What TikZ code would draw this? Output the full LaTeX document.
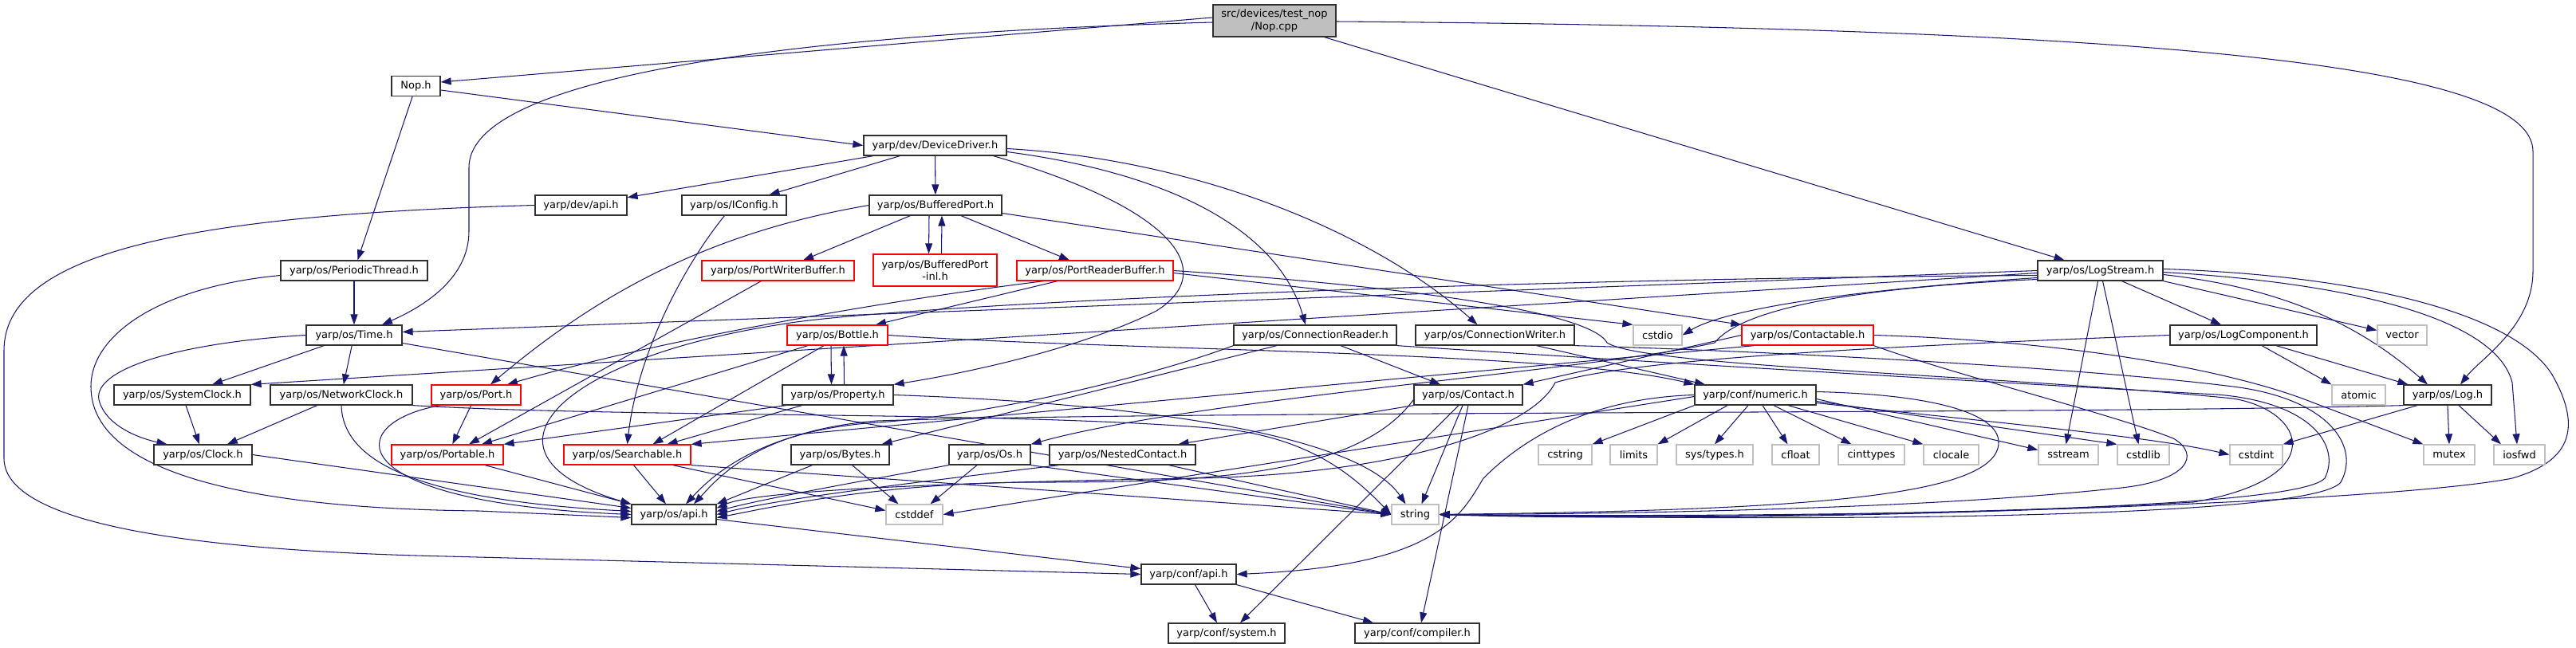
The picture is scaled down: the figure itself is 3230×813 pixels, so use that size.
\documentclass[tikz,border=0pt]{standalone}
\usepackage{fontspec}
\setmainfont{DejaVu Sans}
\usetikzlibrary{arrows.meta}
\pgfdeclarelayer{bg}
\pgfsetlayers{bg,main}
\definecolor{eb}{HTML}{191970}
\definecolor{gbd}{HTML}{C0C0C0}
\definecolor{rootf}{HTML}{BFBFBF}
\definecolor{nbd}{HTML}{303030}
\definecolor{rbd}{HTML}{FF0000}
\tikzset{
  nbase/.style={rectangle, inner sep=0pt, minimum height=25pt, line width=1.25pt, fill=white, font=\fontsize{13pt}{15.5pt}\selectfont},
  bbox/.style={nbase, draw=nbd},
  rbox/.style={nbase, draw=rbd},
  gbox/.style={nbase, draw=gbd},
  rootbox/.style={nbase, draw=nbd, fill=rootf},
  edg/.style={draw=eb, line width=1.05pt, -{Triangle[length=13pt,width=9pt]}}
}
\begin{document}
\begin{tikzpicture}[x=1pt,y=-1pt]
\useasboundingbox (0,0) rectangle (3230,813);
% ---------- nodes ----------
\node[rootbox, minimum width=154pt, minimum height=40pt, align=center] (cpp) at (1598,26) {src/devices/test\_nop\\/Nop.cpp};
\node[bbox, minimum width=61pt] (noph) at (521.5,108) {Nop.h};
\node[bbox, minimum width=179pt] (devdrv) at (1172.5,182.5) {yarp/dev/DeviceDriver.h};
\node[bbox, minimum width=115pt] (devapi) at (728.5,257.5) {yarp/dev/api.h};
\node[bbox, minimum width=131pt] (iconfig) at (920.5,257.5) {yarp/os/IConfig.h};
\node[bbox, minimum width=166pt] (bport) at (1173,257.5) {yarp/os/BufferedPort.h};
\node[bbox, minimum width=184pt] (periodic) at (444,339.5) {yarp/os/PeriodicThread.h};
\node[rbox, minimum width=191pt] (pwbuf) at (975.5,339.5) {yarp/os/PortWriterBuffer.h};
\node[rbox, minimum width=155pt, minimum height=40pt, align=center] (bportinl) at (1172.5,339) {yarp/os/BufferedPort\\-inl.h};
\node[rbox, minimum width=196pt] (prbuf) at (1373,339.5) {yarp/os/PortReaderBuffer.h};
\node[bbox, minimum width=157pt] (logstream) at (2633.5,339.5) {yarp/os/LogStream.h};
% row 5
\node[bbox, minimum width=120pt] (time) at (444,420.5) {yarp/os/Time.h};
\node[rbox, minimum width=126pt] (bottle) at (1050,420.5) {yarp/os/Bottle.h};
\node[bbox, minimum width=204pt] (creader) at (1649,420.5) {yarp/os/ConnectionReader.h};
\node[bbox, minimum width=199pt] (cwriter) at (1874.5,420.5) {yarp/os/ConnectionWriter.h};
\node[gbox, minimum width=61pt] (cstdio) at (2078.5,420.5) {cstdio};
\node[rbox, minimum width=165pt] (contactable) at (2266.5,420.5) {yarp/os/Contactable.h};
\node[bbox, minimum width=184pt] (logcomp) at (2813,420.5) {yarp/os/LogComponent.h};
\node[gbox, minimum width=62pt] (vector) at (3012,420.5) {vector};
% row 6
\node[bbox, minimum width=171pt] (sysclock) at (228.5,495.5) {yarp/os/SystemClock.h};
\node[bbox, minimum width=178pt] (netclock) at (428,495.5) {yarp/os/NetworkClock.h};
\node[rbox, minimum width=112pt] (port) at (597,495.5) {yarp/os/Port.h};
\node[bbox, minimum width=139pt] (property) at (1050.5,495.5) {yarp/os/Property.h};
\node[bbox, minimum width=136pt] (contact) at (1841,495.5) {yarp/os/Contact.h};
\node[bbox, minimum width=152pt] (numeric) at (2201,495.5) {yarp/conf/numeric.h};
\node[gbox, minimum width=67pt] (atomic) at (2957.5,495.5) {atomic};
\node[bbox, minimum width=110pt] (logh) at (3069,495.5) {yarp/os/Log.h};
% row 7
\node[bbox, minimum width=123pt] (clock) at (254.5,570.5) {yarp/os/Clock.h};
\node[rbox, minimum width=140pt] (portable) at (561,570.5) {yarp/os/Portable.h};
\node[rbox, minimum width=159pt] (searchable) at (786.5,570.5) {yarp/os/Searchable.h};
\node[bbox, minimum width=123pt] (bytes) at (1053.5,570.5) {yarp/os/Bytes.h};
\node[bbox, minimum width=102pt] (os) at (1241,570.5) {yarp/os/Os.h};
\node[bbox, minimum width=183pt] (nested) at (1407.5,570.5) {yarp/os/NestedContact.h};
\node[gbox, minimum width=67pt] (cstring) at (1962.5,570.5) {cstring};
\node[gbox, minimum width=59pt] (limits) at (2048.5,570.5) {limits};
\node[gbox, minimum width=96pt] (systypes) at (2150,570.5) {sys/types.h};
\node[gbox, minimum width=59pt] (cfloat) at (2251.5,570.5) {cfloat};
\node[gbox, minimum width=83pt] (cinttypes) at (2346.5,570.5) {cinttypes};
\node[gbox, minimum width=69pt] (clocale) at (2446.5,570.5) {clocale};
\node[gbox, minimum width=75pt] (sstream) at (2593.5,570.5) {sstream};
\node[gbox, minimum width=65pt] (cstdlib) at (2687.5,570.5) {cstdlib};
\node[gbox, minimum width=66pt] (cstdint) at (2829,570.5) {cstdint};
\node[gbox, minimum width=64pt] (mutex) at (3071,570.5) {mutex};
\node[gbox, minimum width=64pt] (iosfwd) at (3159,570.5) {iosfwd};
% row 8-10
\node[bbox, minimum width=106pt] (osapi) at (845,645.5) {yarp/os/api.h};
\node[gbox, minimum width=71pt] (cstddef) at (1146.5,645.5) {cstddef};
\node[gbox, minimum width=59pt] (string) at (1774.5,645.5) {string};
\node[bbox, minimum width=119pt] (confapi) at (1490.5,720.5) {yarp/conf/api.h};
\node[bbox, minimum width=146pt] (system) at (1538,794.5) {yarp/conf/system.h};
\node[bbox, minimum width=156pt] (compiler) at (1777,794.5) {yarp/conf/compiler.h};
% ---------- edges ----------
\begin{pgfonlayer}{bg}
\fill[white] (0,0) rectangle (3230,813);
% Nop.cpp
\draw[edg] ([yshift=4pt]cpp.west) -- ([yshift=5pt]noph.east);
\draw[edg] ([yshift=-2pt]cpp.west) .. controls (900,45) and (588,110) .. (588,210) -- (588,290) .. controls (588,350) and (530,385) .. ([xshift=35pt]time.north);
\draw[edg] ([xshift=-15pt]cpp.south east) -- ([xshift=-45pt]logstream.north);
\draw[edg] ([yshift=-1pt]cpp.east) .. controls (2700,35) and (3176,80) .. (3176,190) -- (3176,340) .. controls (3176,410) and (3110,450) .. ([xshift=16pt]logh.north);
% Nop.h
\draw[edg] ([yshift=-5pt]noph.east) -- (devdrv.west);
\draw[edg] (noph) -- (periodic);
% PeriodicThread
\draw[edg] (periodic) -- (time);
\draw[edg] ([yshift=-6pt]periodic.west) .. controls (200,360) and (114,420) .. (114,485) .. controls (114,590) and (300,638) .. (600,641) -- ([yshift=-4pt]osapi.west);
% DeviceDriver
\draw[edg] (devdrv) -- (devapi);
\draw[edg] (devdrv) -- (iconfig);
\draw[edg] (devdrv) -- (bport);
\draw[edg] ([xshift=73pt]devdrv.south) .. controls (1470,260) and (1530,340) .. (1450,390) .. controls (1350,440) and (1200,470) .. (property.north east);
\draw[edg] ([yshift=-8pt]devdrv.east) .. controls (1450,215) and (1600,280) .. ([xshift=-12pt]creader.north);
\draw[edg] ([yshift=-4pt]devdrv.east) .. controls (1500,200) and (1720,290) .. ([xshift=-22pt]cwriter.north);
% dev/api
\draw[edg] (devapi.west) .. controls (220,270) and (5,320) .. (5,440) -- (5,575) .. controls (5,650) and (200,690) .. (560,698) -- (confapi.west);
% IConfig
\draw[edg] ([xshift=-12pt]iconfig.south) .. controls (860,330) and (800,440) .. (searchable.north);
% BufferedPort
\draw[edg] ([xshift=-8pt]bport.south) -- ([xshift=-8pt]bportinl.north);
\draw[edg] ([xshift=8pt]bportinl.north) -- ([xshift=8pt]bport.south);
\draw[edg] (bport.west) .. controls (900,290) and (760,360) .. ([xshift=18pt]port.north);
\draw[edg] (bport) -- (pwbuf);
\draw[edg] (bport) -- (prbuf);
\draw[edg] ([yshift=-10pt]bport.east) -- (contactable.north west);
% PortWriterBuffer
\draw[edg] ([xshift=-21pt]pwbuf.south) -- ([xshift=27pt]portable.north);
% PortReaderBuffer
\draw[edg] ([xshift=-47pt]prbuf.south) -- ([xshift=48pt]bottle.north);
\draw[edg] ([xshift=-64pt]prbuf.south) .. controls (1150,372) and (850,420) .. ([xshift=39pt]port.north);
\draw[edg] ([yshift=-3pt]prbuf.east) -- (cstdio.north west);
\draw[edg] (prbuf.east) .. controls (1700,355) and (1990,385) .. (2015,430) .. controls (2060,460) and (2500,470) .. (2800,500) .. controls (2890,515) and (2925,600) .. (2750,630) .. controls (2400,650) and (2000,652) .. (string.east);
% Time
\draw[edg] (time) -- (sysclock);
\draw[edg] (time) -- (netclock);
\draw[edg] (time.west) .. controls (220,430) and (110,465) .. (125,505) .. controls (135,535) and (175,550) .. ([xshift=-45pt]clock.north);
\draw[edg] ([yshift=-10pt]time.east) -- (string.west);
% clocks
\draw[edg] (sysclock) -- (clock);
\draw[edg] (netclock) -- (clock);
\draw[edg] (netclock.south) .. controls (430,585) and (540,628) .. ([yshift=4pt]osapi.west);
\draw[edg] (netclock.south east) .. controls (800,525) and (1300,515) .. (1550,540) .. controls (1650,555) and (1700,600) .. (string.west);
\draw[edg] (clock.east) -- ([yshift=8pt]osapi.west);
% Port
\draw[edg] (port) -- (portable);
\draw[edg] ([xshift=-45pt]port.south) .. controls (430,530) and (420,630) .. (osapi.west);
% Portable
\draw[edg] ([xshift=47pt]portable.south) -- (osapi.north west);
% Bottle / Property
\draw[edg] ([xshift=-8pt]bottle.south) -- ([xshift=-8pt]property.north);
\draw[edg] ([xshift=8pt]property.north) -- ([xshift=8pt]bottle.south);
\draw[edg] ([xshift=-37pt]bottle.south) -- ([xshift=43pt]portable.north);
\draw[edg] ([xshift=-17pt]bottle.south) -- ([xshift=32pt]searchable.north);
\draw[edg] (bottle.east) .. controls (1400,440) and (1950,440) .. (numeric.north west);
\draw[edg] ([xshift=-45pt]property.south) -- ([xshift=50pt]searchable.north);
\draw[edg] ([xshift=-65pt]property.south) -- (portable.north east);
\draw[edg] (property.east) .. controls (1400,505) and (1700,540) .. ([xshift=-12pt]string.north);
% Searchable
\draw[edg] ([xshift=8pt]searchable.south) -- ([xshift=-10pt]osapi.north);
\draw[edg] ([xshift=57pt]searchable.south) -- ([yshift=5pt]cstddef.west);
\draw[edg] (searchable.south east) -- (string.west);
% Bytes / Os / NestedContact
\draw[edg] ([xshift=-35pt]bytes.south) -- (osapi.north east);
\draw[edg] ([xshift=15pt]bytes.south) -- ([xshift=-20pt]cstddef.north);
\draw[edg] ([xshift=-16pt]os.south) -- ([xshift=20pt]cstddef.north);
\draw[edg] (os.south west) .. controls (1100,600) and (960,625) .. ([yshift=4pt]osapi.east);
\draw[edg] (os.south east) -- (string.west);
\draw[edg] ([xshift=-80pt]nested.south) .. controls (1150,605) and (980,625) .. (osapi.east);
\draw[edg] ([xshift=58pt]nested.south) -- (string.west);
% Contact
\draw[edg] (contact.south west) -- ([xshift=70pt]nested.north);
\draw[edg] ([yshift=-6pt]contact.west) .. controls (1700,600) and (1500,605) .. (1300,605) .. controls (1100,605) and (950,640) .. ([yshift=-4pt]osapi.east);
\draw[edg] ([xshift=-7pt]contact.south) -- ([xshift=8pt]string.north);
\draw[edg] ([xshift=-12pt]contact.south) -- ([xshift=17pt]system.north);
\draw[edg] (contact.south) -- ([xshift=5pt]compiler.north);
% ConnectionReader
\draw[edg] ([xshift=32pt]creader.south) -- ([xshift=-35pt]contact.north);
\draw[edg] ([xshift=-48pt]creader.south) -- ([xshift=52pt]bytes.north);
\draw[edg] (creader.south west) .. controls (1450,470) and (1250,520) .. (1100,530) .. controls (950,540) and (890,600) .. ([xshift=15pt]osapi.north);
\draw[edg] (creader.south east) .. controls (2000,450) and (2500,480) .. (2780,495) .. controls (2900,505) and (2935,560) .. (2915,600) .. controls (2880,640) and (2300,650) .. (string.east);
% ConnectionWriter
\draw[edg] ([xshift=52pt]cwriter.south) -- ([xshift=-63pt]numeric.north);
\draw[edg] (cwriter.south east) .. controls (2200,440) and (2600,460) .. (2800,485) .. controls (2920,500) and (2960,560) .. (2935,605) .. controls (2900,650) and (2300,655) .. (string.east);
% Contactable
\draw[edg] (contactable.west) -- (contact.north east);
\draw[edg] ([xshift=-67pt]contactable.south) -- (searchable.north east);
\draw[edg] (contactable.east) .. controls (2600,428) and (2800,465) .. (2900,505) -- (mutex.north west);
\draw[edg] (contactable.south east) .. controls (2450,470) and (2650,520) .. (2725,550) .. controls (2760,570) and (2745,605) .. (2650,613) .. controls (2400,640) and (2000,645) .. (string.east);
% numeric
\draw[edg] (numeric.south west) -- (cstring.north east);
\draw[edg] ([xshift=-35pt]numeric.south) -- (limits.north east);
\draw[edg] ([xshift=-9pt]numeric.south) -- (systypes.north);
\draw[edg] ([xshift=9pt]numeric.south) -- ([xshift=-10pt]cfloat.north);
\draw[edg] ([xshift=23pt]numeric.south) -- ([xshift=-25pt]cinttypes.north);
\draw[edg] ([xshift=41pt]numeric.south) -- (clocale.north west);
\draw[edg] ([yshift=-5pt]numeric.east) -- ([yshift=6pt]sstream.west);
\draw[edg] ([yshift=-8pt]numeric.east) -- (cstdlib.north west);
\draw[edg] ([yshift=-10pt]numeric.east) .. controls (2500,530) and (2700,548) .. (cstdint.west);
\draw[edg] ([yshift=4pt]numeric.east) .. controls (2430,495) and (2506,520) .. (2506,555) .. controls (2506,625) and (2250,640) .. (string.east);
\draw[edg] ([yshift=-2pt]numeric.west) -- (cstddef.east);
\draw[edg] (numeric.west) .. controls (1980,500) and (1900,560) .. (1860,600) .. controls (1830,650) and (1800,710) .. (confapi.east);
% LogStream
\draw[edg] (logstream.west) -- ([yshift=4pt]time.east);
\draw[edg] ([yshift=-3pt]logstream.west) -- (sysclock.north east);
\draw[edg] ([yshift=-6pt]logstream.west) .. controls (1800,350) and (1100,385) .. (979,407) .. controls (700,450) and (580,570) .. (osapi.north west);
\draw[edg] ([yshift=-9pt]logstream.west) .. controls (2300,365) and (2160,390) .. (cstdio.east);
\draw[edg] ([yshift=-11pt]logstream.west) .. controls (2300,362) and (2180,392) .. (2150,430) .. controls (2000,465) and (1500,500) .. (os.north east);
\draw[edg] ([xshift=27pt]logstream.south) -- ([xshift=-28pt]logcomp.north);
\draw[edg] (logstream.south east) -- ([yshift=6pt]vector.west);
\draw[edg] ([yshift=-5pt]logstream.east) .. controls (2850,360) and (2950,400) .. ([xshift=-25pt]logh.north);
\draw[edg] ([yshift=-2pt]logstream.east) .. controls (2950,355) and (3130,400) .. (3150,480) -- ([xshift=-3pt]iosfwd.north);
\draw[edg] ([xshift=-3pt]logstream.south) -- ([xshift=-3pt]sstream.north);
\draw[edg] ([xshift=3pt]logstream.south) -- ([xshift=-6pt]cstdlib.north);
\draw[edg] ([yshift=2pt]logstream.east) .. controls (2950,345) and (3150,390) .. (3200,470) .. controls (3240,540) and (3220,580) .. (3150,600) .. controls (3000,630) and (2300,655) .. (string.east);
% LogComponent
\draw[edg] ([xshift=23pt]logcomp.south) -- (atomic.north west);
\draw[edg] ([xshift=41pt]logcomp.south) -- ([xshift=6pt]logh.north west);
\draw[edg] (logcomp.west) .. controls (2350,435) and (2050,450) .. (1950,480) .. controls (1920,540) and (1750,595) .. (1500,600) .. controls (1200,605) and (950,615) .. ([yshift=8pt]osapi.east);
% Log
\draw[edg] ([xshift=-38pt]logh.south) -- (cstdint.north east);
\draw[edg] (logh.south) -- (mutex.north);
\draw[edg] ([xshift=14pt]logh.south) -- ([xshift=-23pt]iosfwd.north);
\draw[edg] (logh.south west) .. controls (2600,520) and (1500,515) .. (1100,528) .. controls (950,540) and (900,600) .. ([xshift=25pt]osapi.north);
% api
\draw[edg] ([yshift=-6pt]osapi.east) -- ([yshift=7pt]confapi.west);
\draw[edg] ([xshift=8pt]confapi.south) -- ([xshift=-12pt]system.north);
\draw[edg] (confapi.south east) -- ([xshift=-55pt]compiler.north);
\end{pgfonlayer}
\end{tikzpicture}
\end{document}
